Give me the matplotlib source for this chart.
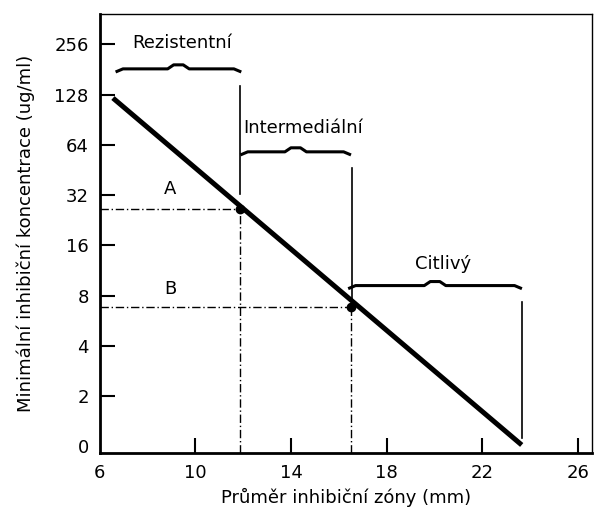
import numpy as np
import matplotlib.pyplot as plt

plt.rcParams['font.family'] = ['DejaVu Sans']

# y axis positions (log2 scale drawn evenly), labels as on the chart
y_pos = [0, 1, 2, 3, 4, 5, 6, 7, 8]
y_labels = ['0', '2', '4', '8', '16', '32', '64', '128', '256']
x_ticks = [6, 10, 14, 18, 22, 26]

# regression line (zone diameter mm, log2 position)
line_x = [6.55, 23.65]
line_y = [6.93, 0.03]

# breakpoints A and B
pts_name = ['A', 'B']
pts_x = [11.85, 16.5]
pts_y = [4.73, 2.78]
lbl_x = [8.95, 8.95]
lbl_y = [4.95, 2.95]

# category brackets
cat_names = ['Rezistentní', 'Intermediální', 'Citlivý']
cat_x0 = [6.72, 11.94, 16.45]
cat_x1 = [11.86, 16.45, 23.6]
cat_y = [7.49, 5.84, 3.18]
cat_txt_x = [9.45, 14.5, 20.35]
cat_txt_y = [7.85, 6.15, 3.45]

# vertical boundary lines
bnd_x = [11.86, 16.55, 23.65]
bnd_y0 = [5.03, 2.85, 0.17]
bnd_y1 = [7.17, 5.54, 2.88]

fig = plt.figure(figsize=(5.94, 5.21), dpi=100)
ax = fig.add_axes([0.168, 0.1305, 0.829, 0.8425])

ax.plot(line_x, line_y, color='black', lw=3.6, solid_capstyle='butt')

for n, px, py, tx, ty in zip(pts_name, pts_x, pts_y, lbl_x, lbl_y):
    ax.plot([6, px], [py, py], color='black', lw=1, ls='-.', dashes=(6, 2, 1, 2))
    ax.plot([px, px], [-0.13, py], color='black', lw=1, ls='-.', dashes=(6, 2, 1, 2))
    ax.plot([px], [py], 'o', color='black', ms=6)
    ax.text(tx, ty, n, ha='center', va='bottom', fontsize=13)

for x, a, b in zip(bnd_x, bnd_y0, bnd_y1):
    ax.plot([x, x], [a, b], color='black', lw=1.2)

for name, a, b, y, tx, ty in zip(cat_names, cat_x0, cat_x1, cat_y, cat_txt_x, cat_txt_y):
    m = (a + b) / 2
    h = 0.1
    bx = [a, a + 0.25, m - 0.45, m - 0.2, m + 0.2, m + 0.45, b - 0.25, b]
    by = [y - 0.03, y + 0.02, y + 0.02, y + h, y + h, y + 0.02, y + 0.02, y - 0.03]
    ax.plot(bx, by, color='black', lw=2.2)
    ax.text(tx, ty, name, ha='center', va='bottom', fontsize=13)

ax.set_xlim(6, 26.6)
ax.set_ylim(-0.13, 8.6)
ax.set_xticks(x_ticks)
ax.set_yticks(y_pos)
ax.set_yticklabels(y_labels)
ax.tick_params(direction='in', length=11, width=1.5, labelsize=13, pad=8)
ax.yaxis.get_major_ticks()[0].tick1line.set_visible(False)
ax.xaxis.get_major_ticks()[0].tick1line.set_visible(False)

for s in ['left', 'bottom']:
    ax.spines[s].set_linewidth(2)
for s in ['top', 'right']:
    ax.spines[s].set_linewidth(1)

ax.set_xlabel('Průměr inhibiční zóny (mm)', fontsize=13, labelpad=4)
ax.set_ylabel('Minimální inhibiční koncentrace (ug/ml)', fontsize=13, labelpad=14)

fig.savefig('out.png', dpi=100)
